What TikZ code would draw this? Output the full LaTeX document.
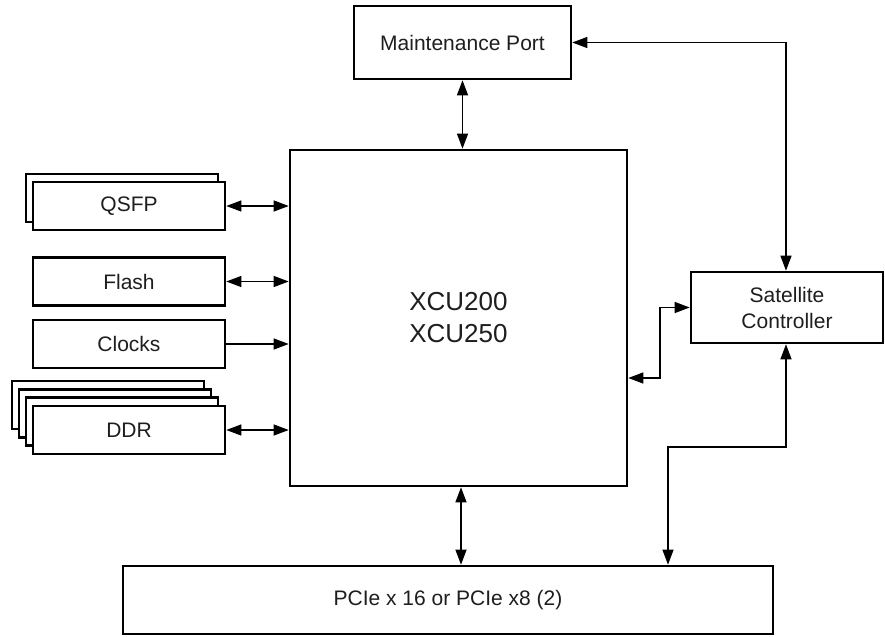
\documentclass[tikz,border=0pt]{standalone}
\usepackage{fontspec}
\setmainfont{Liberation Sans}
\usepackage{tikz}
\usetikzlibrary{positioning, calc, arrows.meta}
\definecolor{bdLine}{RGB}{0, 0, 0}
\definecolor{bdText}{RGB}{30, 30, 30}
\tikzset{
    base/.style={
        font=\fontsize{10.5}{13}\selectfont,
        align=center,
        text=bdText
    },
    block/.style={
        base,
        rectangle,
        draw=bdLine,
        line width=1.3pt,
        fill=white,
        inner sep=0pt
    },
    side/.style={
        block,
        minimum width=96pt,
        minimum height=24pt
    },
    link/.style={
        -{Triangle[length=7.5pt, width=5.5pt]},
        line width=0.6pt,
        color=bdLine
    },
    bilink/.style={
        link,
        {Triangle[length=7.5pt, width=5.5pt]}-{Triangle[length=7.5pt, width=5.5pt]}
    }
}

\begin{document}
\begin{tikzpicture}[x=0.5pt, y=-0.5pt]
  \useasboundingbox (0,0) rectangle (885,637);

  % Central device
  \node[block, minimum width=168.5pt, minimum height=168pt,
        font=\fontsize{13}{16}\selectfont] (main) at (458.5,318) {XCU200\\XCU250};

  % Top and right blocks
  \node[block, minimum width=108.5pt, minimum height=36.5pt] (maint) at (462.5,42.5) {Maintenance Port};
  \node[block, minimum width=96pt, minimum height=35.5pt] (sat) at (787,307.5) {Satellite\\Controller};
  \node[block, minimum width=325pt, minimum height=34pt] (pcie) at (448,600) {PCIe x 16 or PCIe x8 (2)};

  % Stacked copies behind QSFP and DDR
  \node[side] at (122,198) {};
  \foreach \k in {3,2,1}
    \node[side] at (129-7*\k, 430-8.3*\k) {};

  % Left blocks
  \node[side] (qsfp) at (129,206) {QSFP};
  \node[side] (flash) at (129,281.5) {Flash};
  \node[side] (clocks) at (129,344) {Clocks};
  \node[side] (ddr) at (129,430) {DDR};

  % Left links
  \draw[bilink] (qsfp.east) -- (qsfp.east -| main.west);
  \draw[bilink] (flash.east) -- (flash.east -| main.west);
  \draw[link] (clocks.east) -- (clocks.east -| main.west);
  \draw[bilink] (ddr.east) -- (ddr.east -| main.west);

  % Vertical links
  \draw[bilink] (maint.south) -- (maint.south |- main.north);
  \draw[bilink] (main.south -| 461,0) -- (pcie.north -| 461,0);

  % Satellite controller links
  \coordinate (bend) at (660,378);
  \coordinate (kink) at (668,447);
  \draw[bilink] (maint.east) -| (sat.north -| 786,0);
  \draw[bilink] (sat.west) -| (bend) -- (bend -| main.east);
  \draw[bilink] (sat.south -| 786,0) |- (kink) -- (kink |- pcie.north);
\end{tikzpicture}
\end{document}
